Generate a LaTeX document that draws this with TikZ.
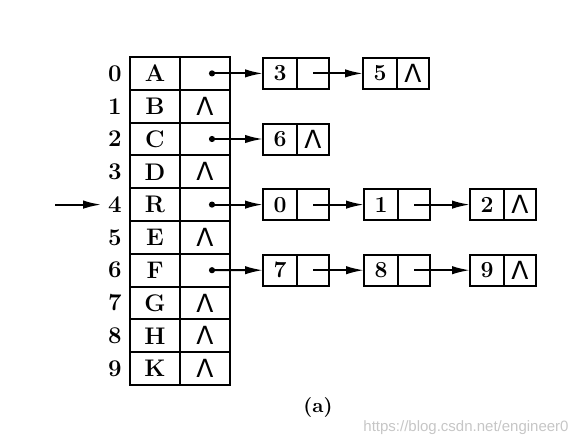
\documentclass[tikz,border=0pt]{standalone}
\usepackage{fontspec}
\newfontfamily\markfont{Liberation Sans}
\newfontfamily\nilfont{DejaVu Sans}
\usetikzlibrary{arrows.meta,positioning}
\newcommand{\nullptr}{{\nilfont\mdseries\fontsize{12.5}{14}\selectfont Λ}}

\begin{document}
\begin{tikzpicture}[
  x=0.5pt, y=-0.5pt,
  cell/.style={draw, line width=1pt, minimum width=25pt, minimum height=16.4pt,
               inner sep=0pt, outer sep=0pt, font=\bfseries\fontsize{12}{14}\selectfont},
  val/.style={draw, line width=1pt, minimum width=17pt, minimum height=15.5pt,
              inner sep=0pt, outer sep=0pt, font=\bfseries\fontsize{11.5}{13}\selectfont},
  ptr/.style={val, minimum width=16pt},
  idx/.style={font=\bfseries\fontsize{12}{14}\selectfont},
  arr/.style={-{Latex[length=9pt,width=4.2pt]}, line width=1pt},
  darr/.style={{Circle[length=3pt]}-{Latex[length=9pt,width=4.2pt]}, line width=1pt}
]
\useasboundingbox (0,0) rectangle (584,445);

% vertex table
\foreach \i/\d/\p in {0/A/{},1/B/\nullptr,2/C/{},3/D/\nullptr,4/R/{},
                      5/E/\nullptr,6/F/{},7/G/\nullptr,8/H/\nullptr,9/K/\nullptr} {
  \node[cell] (d\i) at (155, 73.4+32.8*\i) {\d};
  \node[cell, right=0pt of d\i] (p\i) {\p};
  \node[idx] (i\i) at (115, 73.4+32.8*\i) {\i};
}

% adjacency lists
\node[val] (a3) at (280, 73.4) {3};
\node[ptr, right=0pt of a3] (a3p) {};
\node[val] (a5) at (380, 73.4) {5};
\node[ptr, right=0pt of a5] (a5p) {\nullptr};

\node[val] (c6) at (280, 139) {6};
\node[ptr, right=0pt of c6] (c6p) {\nullptr};

\node[val] (r0) at (280, 204.6) {0};
\node[ptr, right=0pt of r0] (r0p) {};
\node[val] (r1) at (381, 204.6) {1};
\node[ptr, right=0pt of r1] (r1p) {};
\node[val] (r2) at (487, 204.6) {2};
\node[ptr, right=0pt of r2] (r2p) {\nullptr};

\node[val] (f7) at (280, 270.2) {7};
\node[ptr, right=0pt of f7] (f7p) {};
\node[val] (f8) at (381, 270.2) {8};
\node[ptr, right=0pt of f8] (f8p) {};
\node[val] (f9) at (487, 270.2) {9};
\node[ptr, right=0pt of f9] (f9p) {\nullptr};

\draw[darr] ([xshift=2pt]p0.center) -- (a3.west);
\draw[arr] (a3p.center) -- (a5.west);
\draw[darr] ([xshift=2pt]p2.center) -- (c6.west);
\draw[darr] ([xshift=2pt]p4.center) -- (r0.west);
\draw[arr] (r0p.center) -- (r1.west);
\draw[arr] (r1p.center) -- (r2.west);
\draw[darr] ([xshift=2pt]p6.center) -- (f7.west);
\draw[arr] (f7p.center) -- (f8.west);
\draw[arr] (f8p.center) -- (f9.west);

% start vertex
\coordinate (head) at (55, 204.6);
\draw[arr] (head) -- (i4.west);

\node[font=\bfseries\fontsize{10}{12}\selectfont] (cap) at (318, 407) {(a)};
\node[font=\markfont\fontsize{7.5}{9}\selectfont, text=gray!45] (mark) at (466, 428)
  {https://blog.csdn.net/engineer0};
\end{tikzpicture}
\end{document}
